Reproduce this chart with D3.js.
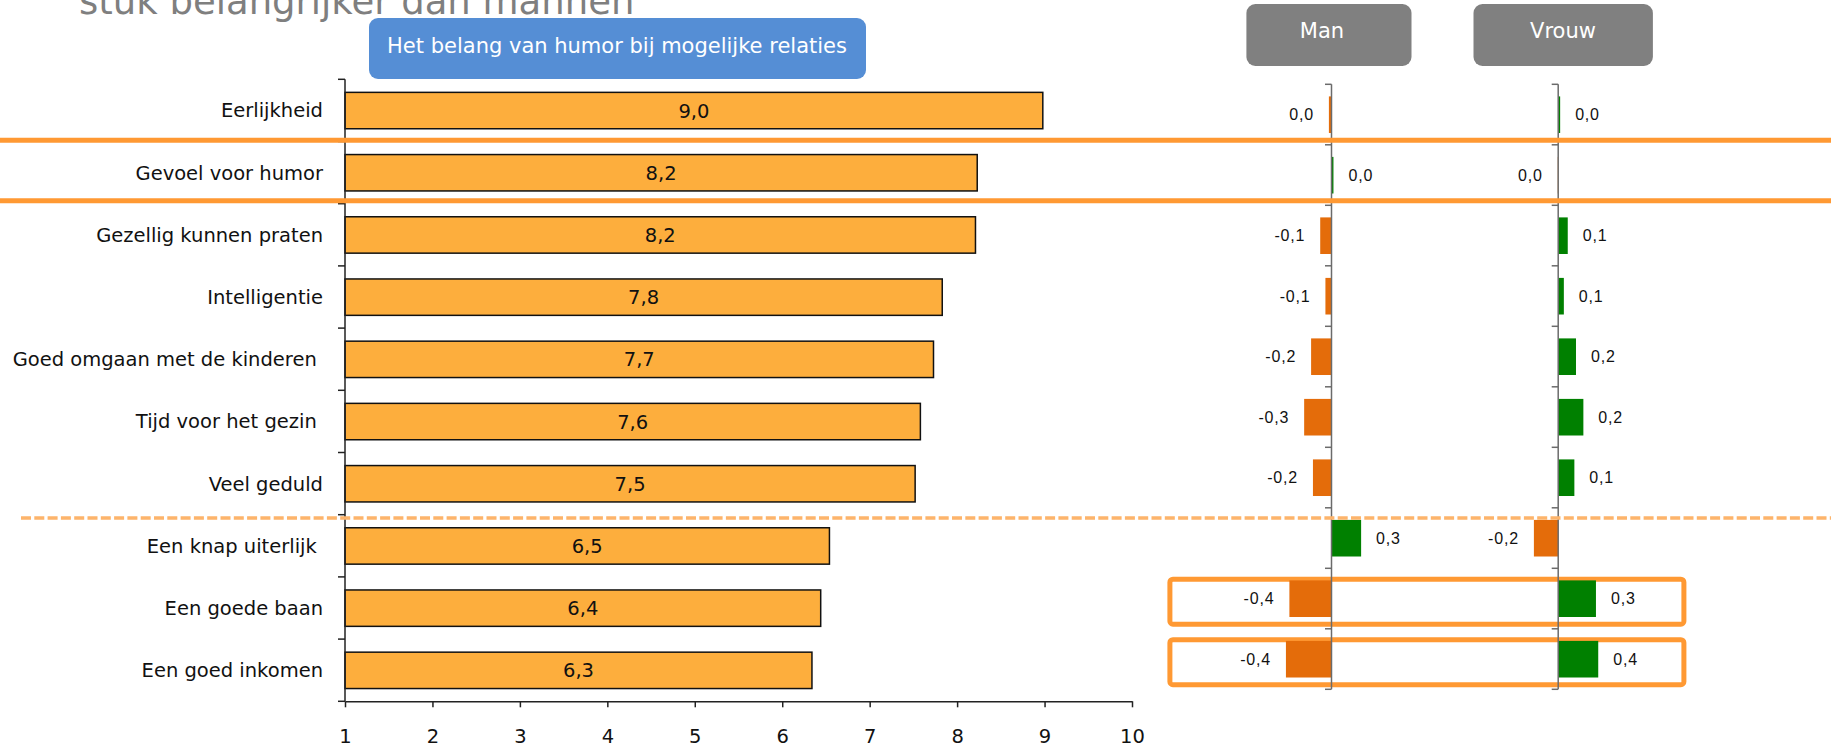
<!DOCTYPE html>
<html><head><meta charset="utf-8">
<script src="https://cdn.jsdelivr.net/npm/d3@7"></script>
<style>
body{margin:0;background:#fff;}
svg{display:block;font-family:"DejaVu Sans",sans-serif;}
text{white-space:pre;}
</style></head><body>
<svg id="chart" width="1831" height="748"></svg>
<script>
// ---------- data ----------
const categories = ["Eerlijkheid","Gevoel voor humor","Gezellig kunnen praten","Intelligentie",
  "Goed omgaan met de kinderen ","Tijd voor het gezin ","Veel geduld","Een knap uiterlijk ",
  "Een goede baan","Een goed inkomen"];
const scores = [8.98, 8.23, 8.21, 7.83, 7.73, 7.58, 7.52, 6.54, 6.44, 6.34];
const manDiff = [-0.024, 0.018, -0.104, -0.056, -0.188, -0.252, -0.171, 0.273, -0.388, -0.42];
const vrouwDiff = [0.018, -0.004, 0.088, 0.052, 0.164, 0.232, 0.149, -0.224, 0.348, 0.369];
const xTicks = [1,2,3,4,5,6,7,8,9,10];
const panelTitles = ["Man","Vrouw"];
const highlightRows = ["Een goede baan","Een goed inkomen"];
const chartTitle = "Het belang van humor bij mogelijke relaties";
const pageTitle = "stuk belangrijker dan mannen";

// ---------- setup ----------
const W = 1831, H = 748;
const svg = d3.select("#chart");
svg.append("rect").attr("width", W).attr("height", H).attr("fill", "#fff");
const fmt = v => (Math.abs(v) < 0.05 ? "0.0" : v.toFixed(1)).replace(".", ",");

// page title (cut off at the top, as in the source slide)
svg.append("text").attr("x", 79).attr("y", 13.5).attr("font-size", 37)
  .attr("fill", "#7f7f7f").text(pageTitle);

// blue title box
svg.append("rect").attr("x", 369).attr("y", 18).attr("width", 497).attr("height", 61)
  .attr("rx", 9).attr("fill", "#558ED5");
svg.append("text").attr("x", 617).attr("y", 53).attr("text-anchor", "middle")
  .attr("font-size", 21).attr("fill", "#fff").text(chartTitle);

// ---------- main bar chart ----------
const x = d3.scaleLinear().domain([1, 10]).range([345, 1132]);
const y = d3.scaleBand().domain(categories).range([79.3, 701.3]);
const step = y.step();

svg.append("g").selectAll("rect").data(scores).join("rect")
  .attr("x", x(1))
  .attr("y", (d, i) => y(categories[i]) + step * 0.21)
  .attr("width", d => x(d) - x(1))
  .attr("height", step * 0.585)
  .attr("fill", "#FDAE3D").attr("stroke", "#111").attr("stroke-width", 1.5);

svg.append("g").selectAll("text").data(scores).join("text")
  .attr("x", d => (x(1) + x(d)) / 2)
  .attr("y", (d, i) => y(categories[i]) + step * 0.5025)
  .attr("dy", "0.36em").attr("text-anchor", "middle")
  .attr("font-size", 19.5).attr("fill", "#111")
  .text(d => fmt(d));

// category labels
svg.append("g").selectAll("text").data(categories).join("text")
  .attr("x", x(1) - 22)
  .attr("y", d => y(d) + step / 2)
  .attr("dy", "0.36em").attr("text-anchor", "end")
  .attr("font-size", 19.5).attr("fill", "#111")
  .text(d => d);

// x axis
const xAxis = svg.append("g").attr("transform", `translate(0,${y.range()[1]})`)
  .call(d3.axisBottom(x).tickValues(xTicks).tickSize(6).tickSizeOuter(0).tickFormat(d3.format("d")));
xAxis.select(".domain").attr("stroke", "#222").attr("stroke-width", 1.5);
xAxis.selectAll(".tick line").attr("stroke", "#222").attr("stroke-width", 1.5);
xAxis.selectAll(".tick text").attr("y", 28).attr("font-size", 19.5)
  .attr("font-family", "DejaVu Sans").attr("fill", "#111");

// y axis (ticks at band boundaries)
const bounds = categories.map(c => y(c)).concat([y.range()[1]]);
const yAxisG = svg.append("g").attr("stroke", "#222").attr("stroke-width", 1.5);
yAxisG.append("line").attr("x1", x(1)).attr("x2", x(1))
  .attr("y1", bounds[0]).attr("y2", bounds[bounds.length - 1]);
yAxisG.selectAll("line.t").data(bounds).join("line").attr("class", "t")
  .attr("x1", x(1) - 7).attr("x2", x(1)).attr("y1", d => d).attr("y2", d => d);

// ---------- difference panels ----------
const yP = d3.scaleBand().domain(categories).range([84.3, 689.3]);
const stepP = yP.step();
const panels = [
  {title: panelTitles[0], values: manDiff, axis: 1331.5, box: [1246.4, 1411.5], tx: 1322},
  {title: panelTitles[1], values: vrouwDiff, axis: 1558.2, box: [1473.5, 1652.9], tx: 1563}
];

// highlight boxes (drawn under axes)
svg.append("g").selectAll("rect").data(highlightRows).join("rect")
  .attr("x", 1169.9).attr("width", 514)
  .attr("y", d => yP(d) + stepP * 0.18).attr("height", stepP * 0.744)
  .attr("rx", 3).attr("fill", "#fff").attr("stroke", "#FF9933").attr("stroke-width", 5);

panels.forEach(p => {
  const xs = d3.scaleLinear().domain([-1, 1]).range([p.axis - 108.5, p.axis + 108.5]);
  // header box
  svg.append("rect").attr("x", p.box[0]).attr("y", 4).attr("width", p.box[1] - p.box[0])
    .attr("height", 62).attr("rx", 9).attr("fill", "#808080");
  svg.append("text").attr("x", p.tx).attr("y", 38).attr("text-anchor", "middle")
    .attr("font-size", 21).attr("fill", "#fff").text(p.title);
  // bars
  svg.append("g").selectAll("rect").data(p.values).join("rect")
    .attr("x", d => Math.min(xs(0), xs(d)))
    .attr("width", d => Math.abs(xs(d) - xs(0)))
    .attr("y", (d, i) => yP(categories[i]) + stepP * 0.2)
    .attr("height", stepP * 0.605)
    .attr("fill", d => d < 0 ? "#E46C0A" : "#008000");
  // labels
  svg.append("g").selectAll("text").data(p.values).join("text")
    .attr("x", d => d < 0 ? xs(d) - 15 : xs(d) + 15)
    .attr("text-anchor", d => d < 0 ? "end" : "start")
    .attr("y", (d, i) => yP(categories[i]) + stepP * 0.5)
    .attr("dy", "0.36em")
    .attr("font-family", "'Liberation Sans', Arial, sans-serif")
    .attr("font-size", 16).attr("letter-spacing", 0.8).attr("fill", "#111")
    .text(d => fmt(d));
  // axis
  const b = categories.map(c => yP(c)).concat([yP.range()[1]]);
  const g = svg.append("g").attr("stroke", "#6b6b6b").attr("stroke-width", 1.5);
  g.append("line").attr("x1", xs(0)).attr("x2", xs(0)).attr("y1", b[0]).attr("y2", b[b.length - 1]);
  g.selectAll("line.t").data(b).join("line").attr("class", "t")
    .attr("x1", xs(0) - 6.5).attr("x2", xs(0)).attr("y1", d => d).attr("y2", d => d);
});

// ---------- annotation lines ----------
[140.2, 200.7].forEach(yy => {
  svg.append("line").attr("x1", 0).attr("x2", W).attr("y1", yy).attr("y2", yy)
    .attr("stroke", "#FF9933").attr("stroke-width", 5);
});
svg.append("line").attr("x1", 21).attr("x2", W).attr("y1", 518).attr("y2", 518)
  .attr("stroke", "#FDB46B").attr("stroke-width", 3.5).attr("stroke-dasharray", "10,3.3");
</script>
</body></html>
